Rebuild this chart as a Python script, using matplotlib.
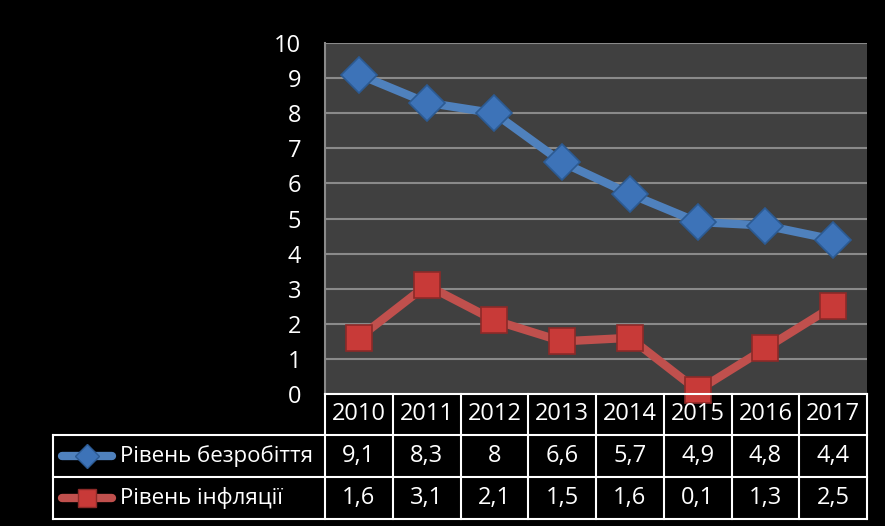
# line chart with a data table below, dark background
import matplotlib.pyplot as plt
from matplotlib.lines import Line2D

years = ['2010', '2011', '2012', '2013', '2014', '2015', '2016', '2017']
unemployment = [9.1, 8.3, 8.0, 6.6, 5.7, 4.9, 4.8, 4.4]
inflation = [1.6, 3.1, 2.1, 1.5, 1.6, 0.1, 1.3, 2.5]
series_names = ['Рівень безробіття', 'Рівень інфляції']

plt.rcParams['font.family'] = ['Open Sans', 'DejaVu Sans']

W, H = 885, 526
fig = plt.figure(figsize=(W / 100, H / 100), dpi=100, facecolor='black')

left, right, top, bottom = 325, 867, 43, 394
ax = fig.add_axes([left / W, 1 - bottom / H, (right - left) / W, (bottom - top) / H])
ax.set_facecolor('#404040')

x = list(range(len(years)))
blue = '#4f81bd'
red = '#c0504d'
ax.plot(x, unemployment, color=blue, lw=6, marker='D', ms=18,
        mfc='#3d73b8', mec='#2c5a92', mew=1.2, solid_capstyle='round',
        zorder=3, clip_on=False)
ax.plot(x, inflation, color=red, lw=6, marker='s', ms=19,
        mfc='#c83a38', mec='#8c2a28', mew=1.2, solid_capstyle='round',
        zorder=3, clip_on=False)

ax.set_xlim(-0.5, len(years) - 0.5)
ax.set_ylim(0, 10)
ax.set_yticks(range(0, 11))
ax.yaxis.grid(True, color='#8a8a8a', lw=1.5)
ax.set_axisbelow(True)
ax.set_xticks([])
ax.tick_params(axis='y', length=0, colors='white', labelsize=17, pad=17)
for s in ['top', 'right', 'bottom']:
    ax.spines[s].set_visible(False)
ax.spines['left'].set_color('#8a8a8a')
ax.spines['left'].set_linewidth(1.5)

# data table drawn in figure pixels
def fx(px):
    return px / W

def fy(py):
    return 1 - py / H

col_w = (right - left) / len(years)
rows_y = [394, 435, 477, 519]
tbl_left = 53
lc = 'white'
lw = 1.5
fig.add_artist(Line2D([fx(left), fx(right)], [fy(rows_y[0]), fy(rows_y[0])], color=lc, lw=lw))
for yy in rows_y[1:]:
    fig.add_artist(Line2D([fx(tbl_left), fx(right)], [fy(yy), fy(yy)], color=lc, lw=lw))
for i in range(len(years) + 1):
    xx = left + i * col_w
    fig.add_artist(Line2D([fx(xx), fx(xx)], [fy(rows_y[0]), fy(rows_y[3])], color=lc, lw=lw))
fig.add_artist(Line2D([fx(tbl_left), fx(tbl_left)], [fy(rows_y[1]), fy(rows_y[3])], color=lc, lw=lw))

for i, yr in enumerate(years):
    cx = left + (i + 0.5) * col_w
    fig.text(fx(cx), fy((rows_y[0] + rows_y[1]) / 2), yr, color='white',
             fontsize=17, ha='center', va='center')
    for r, vals in enumerate([unemployment, inflation]):
        s = ('%g' % vals[i]).replace('.', ',')
        fig.text(fx(cx), fy((rows_y[r + 1] + rows_y[r + 2]) / 2), s, color='white',
                 fontsize=17, ha='center', va='center')

legend_styles = [(blue, 'D', '#3d73b8', '#2c5a92', 12), (red, 's', '#c83a38', '#8c2a28', 13)]
for r, (name, st) in enumerate(zip(series_names, legend_styles)):
    cy = fy((rows_y[r + 1] + rows_y[r + 2]) / 2)
    c, m, mfc, mec, ms = st
    fig.add_artist(Line2D([fx(62), fx(112)], [cy, cy], color=c, lw=6, solid_capstyle='round'))
    fig.add_artist(Line2D([fx(87)], [cy], marker=m, ms=ms, mfc=mfc, mec=mec, mew=1, color=c))
    fig.text(fx(120), cy, name, color='white', fontsize=16, ha='left', va='center')

fig.savefig('out.png', dpi=100, facecolor='black')
